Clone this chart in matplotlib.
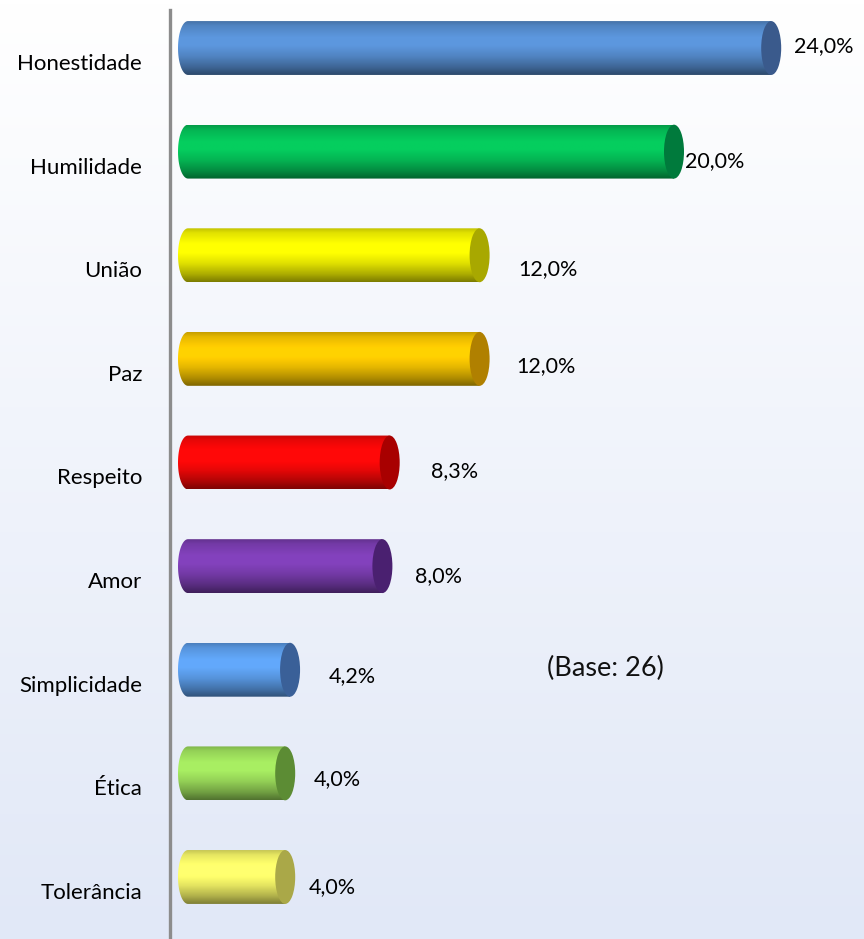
import numpy as np
import matplotlib
matplotlib.use("Agg")
import matplotlib.pyplot as plt
from matplotlib.colors import to_rgb
from matplotlib.patches import Ellipse, PathPatch
from matplotlib.path import Path

# ---- data ----
categories = ["Honestidade", "Humilidade", "União", "Paz", "Respeito",
              "Amor", "Simplicidade", "Ética", "Tolerância"]
values = [24.0, 20.0, 12.0, 12.0, 8.3, 8.0, 4.2, 4.0, 4.0]
value_labels = ["24,0%", "20,0%", "12,0%", "12,0%", "8,3%", "8,0%", "4,2%", "4,0%", "4,0%"]
base_note = "(Base: 26)"

# ---- styles / layout ----
body_colors = ["#5a93d8", "#05c85c", "#fafa00", "#ffcc00", "#ff0808",
               "#8040b8", "#60a4f4", "#a4e860", "#ffff6c"]
cap_colors = ["#3a5a8c", "#007a3c", "#a8a800", "#b08000", "#a80000",
              "#4a2070", "#3a6098", "#5c8c34", "#aaa848"]
label_dx = [14, 2, 30, 28, 32, 24, 30, 20, 15]      # pixel gap after bar end
label_dy = [-2, 9, 14, 7, 9, 10, 6, 6, 10]          # pixel offset from bar center

W, H, DPI = 864, 939, 100
fig = plt.figure(figsize=(W / DPI, H / DPI), dpi=DPI)

# background gradient
bg = fig.add_axes([0, 0, 1, 1], zorder=-10)
g = np.linspace(0, 1, 256)[:, None]
top = np.array(to_rgb("#ffffff"))
bot = np.array(to_rgb("#e1e8f7"))
img = top[None, None, :] * (1 - g[..., None]) + bot[None, None, :] * g[..., None]
img = np.repeat(img, 2, axis=1)
bg.imshow(img, aspect="auto", extent=[0, 1, 0, 1], origin="upper")
bg.axis("off")

px_per_unit = 24.3
ax_left_px = 170
zero_px = 188
ax = fig.add_axes([ax_left_px / W, 0, 1 - ax_left_px / W, (H - 10) / H])
ax.patch.set_alpha(0)
x0 = -(zero_px - ax_left_px) / px_per_unit
x1 = x0 + (W - ax_left_px) / px_per_unit
ax.set_xlim(x0, x1)
spacing_px = 103.6
ytop = -38 / spacing_px
ybot = 8 + 62 / spacing_px
ax.set_ylim(ybot, ytop)

for s in ["top", "right", "bottom"]:
    ax.spines[s].set_visible(False)
ax.spines["left"].set_color("#8c8c8c")
ax.spines["left"].set_linewidth(2.4)
ax.set_xticks([])
ax.set_yticks([])

bar_h = 0.52
cap_a = 10 / px_per_unit  # half-width of cap ellipse in data units

# shading profile (top -> bottom)
prof_t = np.array([0.0, 0.08, 0.3, 0.45, 0.65, 0.85, 1.0])
prof_f = np.array([0.78, 0.9, 1.03, 1.03, 0.9, 0.7, 0.5])
tt = np.linspace(0, 1, 64)
ff = np.interp(tt, prof_t, prof_f)

FONT = ["Lato", "DejaVu Sans"]

for i, (v, bc, cc) in enumerate(zip(values, body_colors, cap_colors)):
    base = np.array(to_rgb(bc))
    grad = np.clip(base[None, :] * ff[:, None], 0, 1)
    grad_img = np.repeat(grad[:, None, :], 2, axis=1)
    yt, yb = i - bar_h / 2, i + bar_h / 2
    im = ax.imshow(grad_img, aspect="auto", origin="upper",
                   extent=[-cap_a, v, yb, yt], interpolation="bilinear", zorder=2)
    th2 = np.linspace(-np.pi / 2, -3 * np.pi / 2, 40)
    arcx = cap_a * np.cos(th2)
    arcy = i - (bar_h / 2) * np.sin(th2)
    verts = [(0, yt), (v, yt), (v, yb), (0, yb)] + list(zip(arcx, arcy)) + [(0, yt)]
    codes = [Path.MOVETO] + [Path.LINETO] * (len(verts) - 2) + [Path.CLOSEPOLY]
    clip = PathPatch(Path(verts, codes), transform=ax.transData, fc="none", ec="none")
    ax.add_patch(clip)
    im.set_clip_path(clip)
    ax.add_patch(Ellipse((v, i), 2 * cap_a, bar_h, fc=cc, ec="none", zorder=3))

    ax.annotate(value_labels[i], xy=(v, i), xycoords="data",
                xytext=(cap_a * px_per_unit + label_dx[i] - 1, -label_dy[i]),
                textcoords="offset pixels", ha="left", va="center",
                fontsize=15.5, family=FONT, color="#000000")
    ax.annotate(categories[i], xy=(0, i), xycoords=ax.get_yaxis_transform(),
                xytext=(-28, -16), textcoords="offset pixels", ha="right",
                va="center", fontsize=16, family=FONT,
                color="#000000", annotation_clip=False)

fig.text(605 / W, 1 - 668 / H, base_note, ha="center", va="center",
         fontsize=19.5, family=FONT, color="#111111")

fig.savefig("out.png", dpi=DPI)
